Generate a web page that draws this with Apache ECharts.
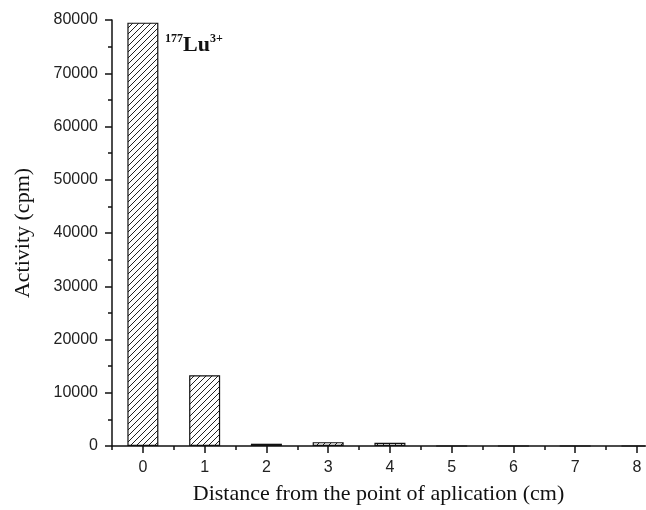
<!DOCTYPE html>
<html>
<head>
<meta charset="utf-8">
<script src="https://cdn.jsdelivr.net/npm/echarts@6/dist/echarts.min.js"></script>
<style>
  html, body { margin: 0; padding: 0; background: #fff; }
  #main { width: 646px; height: 510px; }
</style>
</head>
<body>
<div id="main"></div>
<script>
// distance from the point of application (cm) and measured activity (cpm)
var distances = [0, 1, 2, 3, 4, 5, 6, 7, 8];
var activity = [79500, 13300, 430, 720, 600, 0, 0, 0, 0];
var xMinorTicks = [-0.5, 0.5, 1.5, 2.5, 3.5, 4.5, 5.5, 6.5, 7.5];

// hatch pattern for the bars
function makeHatch() {
  var c = document.createElement('canvas');
  c.width = 6; c.height = 6;
  var ctx = c.getContext('2d');
  ctx.fillStyle = '#fff';
  ctx.fillRect(0, 0, 6, 6);
  ctx.strokeStyle = '#222';
  ctx.lineWidth = 1;
  ctx.beginPath();
  ctx.moveTo(-1, 7); ctx.lineTo(7, -1);
  ctx.moveTo(-4, 4); ctx.lineTo(4, -4);
  ctx.moveTo(2, 10); ctx.lineTo(10, 2);
  ctx.stroke();
  return c;
}

var myChart = echarts.init(document.getElementById('main'));

var barData = distances.map(function (d, i) { return [d, activity[i]]; });
var tickStyle = { color: '#111', width: 1.5 };

var option = {
  animation: false,
  backgroundColor: '#fff',
  grid: { left: 112, right: 1, top: 20, bottom: 64, containLabel: false, outerBoundsMode: 'none' },
  xAxis: [{
    type: 'value',
    min: -0.5,
    max: 8.13,
    name: 'Distance from the point of aplication (cm)',
    nameLocation: 'middle',
    nameGap: 37,
    nameTextStyle: { fontFamily: 'Liberation Serif', fontSize: 22, color: '#111' },
    axisLine: { onZero: false, lineStyle: tickStyle },
    axisTick: { length: 7, customValues: distances, lineStyle: tickStyle },
    axisLabel: {
      customValues: distances,
      fontFamily: 'Liberation Sans', fontSize: 16, color: '#222', margin: 14
    },
    splitLine: { show: false }
  }, {
    // half-step minor ticks
    type: 'value',
    position: 'bottom',
    min: -0.5,
    max: 8.13,
    axisLine: { show: false, onZero: false },
    axisTick: { length: 4, customValues: xMinorTicks, lineStyle: tickStyle },
    axisLabel: { show: false },
    splitLine: { show: false }
  }],
  yAxis: {
    type: 'value',
    min: 0,
    max: 80000,
    interval: 10000,
    name: 'Activity (cpm)',
    nameLocation: 'middle',
    nameGap: 78,
    nameTextStyle: { fontFamily: 'Liberation Serif', fontSize: 22, color: '#111' },
    axisLine: { show: true, onZero: false, lineStyle: tickStyle },
    axisTick: { show: true, length: 7, lineStyle: tickStyle },
    minorTick: { show: true, splitNumber: 2, length: 4, lineStyle: tickStyle },
    axisLabel: {
      fontFamily: 'Liberation Sans', fontSize: 16, color: '#222', margin: 14,
      formatter: function (v) { return String(v); }
    },
    splitLine: { show: false }
  },
  series: [{
    type: 'bar',
    xAxisIndex: 0,
    data: barData,
    barWidth: 31,
    itemStyle: {
      color: { image: makeHatch(), repeat: 'repeat' },
      borderColor: '#111',
      borderWidth: 1.2
    }
  }],
  graphic: [{
    type: 'text',
    left: 165,
    top: 33,
    style: {
      text: '{sup|177}{big|Lu}{sup|3+}',
      rich: {
        sup: { fontFamily: 'Liberation Serif', fontWeight: 'bold', fontSize: 12, verticalAlign: 'top', padding: [0, 0, 12, 0], fill: '#111' },
        big: { fontFamily: 'Liberation Serif', fontWeight: 'bold', fontSize: 22, fill: '#111' }
      }
    }
  }]
};

myChart.setOption(option);
</script>
</body>
</html>
